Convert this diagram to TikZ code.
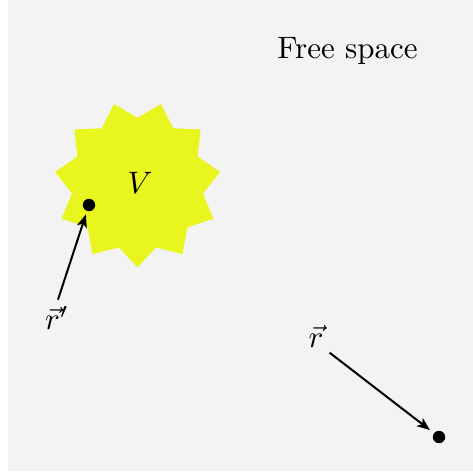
\documentclass[tikz,border=0pt]{standalone}
\usepackage{tikz}
\usetikzlibrary{arrows.meta,positioning,shapes.geometric}
\usepackage{amsmath,amssymb}
\definecolor{SpaceGray}{RGB}{243,243,243}
\definecolor{VolYellow}{RGB}{233,245,30}
\tikzset{
  pointdot/.style={fill=black,circle,inner sep=0pt,minimum size=4pt},
  vecarrow/.style={-{Stealth[length=4.2pt,width=3.3pt,inset=1.1pt]},
    line width=0.65pt,draw=black},
  veclabel/.style={inner sep=1pt,font=\normalsize},
}

\begin{document}
\begin{tikzpicture}[x=0.3226pt,y=-0.3226pt]
  \fill[SpaceGray] (8,0) rectangle (473,471);
  \useasboundingbox (0,0) rectangle (473,471);
  \node[star,star points=11,star point ratio=1.26,shape border rotate=180,
    fill=VolYellow,inner sep=0pt,minimum size=53.8pt] (vol) at (137.5,184) {};
  \node at (140,183) (vlabel) {$V$};
  \node at (347.5,51) (free) {Free space};
  \node[pointdot] at (89,205) (src) {};
  \node[pointdot] at (439,437) (field) {};
  \node[veclabel] at (57,318) (rplabel) {$\vec{r}'$};
  \node[veclabel] at (316,336) (rlabel) {$\vec{r}$};
  \draw[vecarrow,shorten <=1pt,shorten >=1pt] (rplabel.north) -- (src);
  \draw[vecarrow,shorten <=1pt,shorten >=1.5pt] (rlabel.south east) -- (field);
\end{tikzpicture}
\end{document}
